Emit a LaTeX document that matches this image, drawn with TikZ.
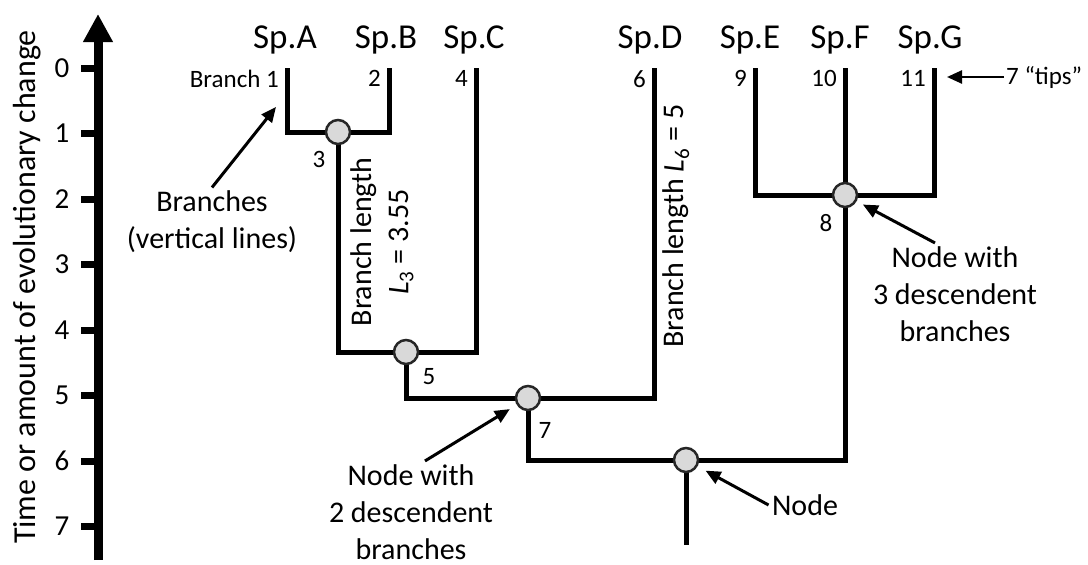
\documentclass[tikz,border=0pt]{standalone}
\usepackage{fontspec}
\setmainfont{Carlito}
\usetikzlibrary{arrows.meta,positioning}

\begin{document}
\begin{tikzpicture}[x=1pt,y=-1pt,
  br/.style={line width=5pt},
  dot/.style={circle,draw=black!85,line width=2.5pt,fill=black!15,minimum size=24pt,inner sep=0pt},
  arr/.style={line width=3pt,-{Triangle[length=15pt,width=13pt]}},
  lbl/.style={font=\fontsize{30}{37}\selectfont,align=center},
  sp/.style={font=\fontsize{35}{40}\selectfont},
  num/.style={font=\fontsize{25}{28}\selectfont,inner sep=2pt}]
\useasboundingbox (0,0) rectangle (1088,565);
% axis
\draw[line width=9pt,-{Triangle[length=28pt,width=28pt]}] (98,560) -- (98,14);
\foreach \t in {0,...,7}{
  \draw[line width=7pt] (81,68+65.5*\t) -- (98,68+65.5*\t);
  \node[font=\fontsize{29}{32}\selectfont] (tick\t) at (62,68+65.5*\t) {\t};}
\node[rotate=90,font=\fontsize{32}{36}\selectfont] (title) at (27,287) {Time or amount of evolutionary change};
% tips and nodes
\coordinate (tA) at (287,68); \coordinate (tB) at (389,68); \coordinate (tC) at (476,68); \coordinate (tD) at (654,68);
\coordinate (tE) at (755,68); \coordinate (tF) at (845,68); \coordinate (tG) at (934,68);
\coordinate (c3) at (338,132); \coordinate (c5) at (406,352); \coordinate (c7) at (528,398);
\coordinate (c8) at (845,195); \coordinate (c0) at (686,460); \coordinate (root) at (686,545);
\draw[br] (tA) |- (c3) -| (tB);
\draw[br] (c3) |- (c5) -| (tC);
\draw[br] (c5) |- (c7) -| (tD);
\draw[br] (c7) |- (c0) -| (tF);
\draw[br] (tE) |- (c8) -| (tG);
\draw[br] (c0) -- (root);
\foreach \n in {3,5,7,8,0}{\node[dot] (n\n) at (c\n) {};}
% species and branch numbers
\foreach \p/\x in {A/285,B/386,C/474,D/650,E/750,F/840,G/930}{\node[sp] (sp\p) at (\x,40) {Sp.\p};}
\foreach \t/\n in {tA/Branch 1,tB/2,tC/4,tD/6,tE/9,tF/10,tG/11}{\node[num,anchor=north east,xshift=-6pt] at (\t) {\n};}
\foreach \n/\x/\y in {3/319/159,5/429/377,7/545/430,8/826/223}{\node[num] (num\n) at (\x,\y) {\n};}
% annotations
\node[lbl] (brlab) at (212,222) {Branches\\(vertical lines)};
\coordinate (brtip) at (276,107);
\draw[arr] (brlab.north) -- (brtip);
\node[lbl,rotate=90] (len3) at (382,242) {Branch length\\\textit{L}\textsubscript{3} = 3.55};
\node[lbl,rotate=90] (len6) at (676,226) {Branch length \textit{L}\textsubscript{6} = 5};
\node[lbl] (lab7) at (411,512) {Node with\\2 descendent\\branches};
\draw[arr,shorten >=8pt] ([xshift=14pt]lab7.north) -- (n7);
\node[lbl] (lab8) at (955,294) {Node with\\3 descendent\\branches};
\draw[arr,shorten >=7pt] ([xshift=-20pt]lab8.north) -- (n8);
\node[lbl] (lab0) at (805,505) {Node};
\draw[arr,shorten >=9pt] (lab0.west) -- (n0);
\node[num,anchor=west] (tiplab) at (1004,77) {7 “tips”};
\coordinate (tiptip) at (947,77);
\draw[arr,line width=2.5pt] (tiplab) -- (tiptip);
\end{tikzpicture}
\end{document}
